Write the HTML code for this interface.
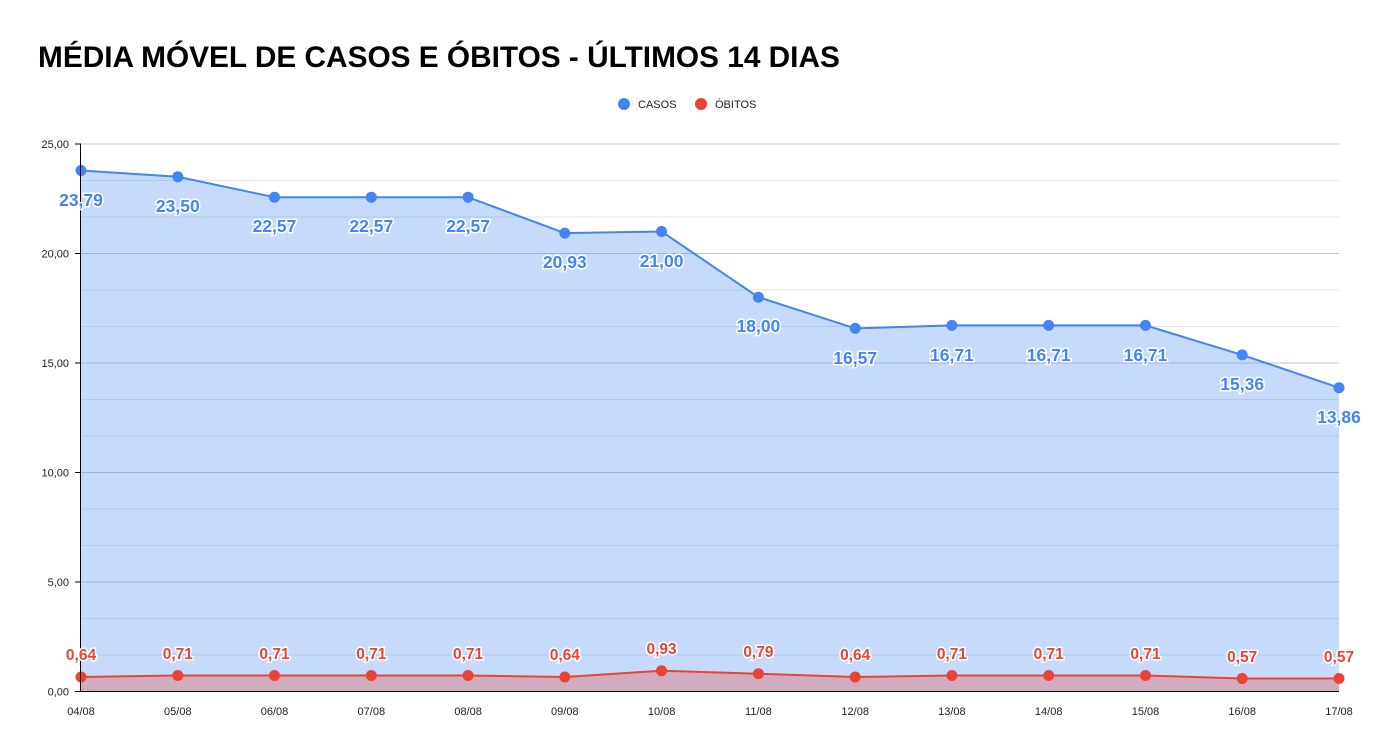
<!DOCTYPE html>
<html><head><meta charset="utf-8"><style>
body{margin:0;background:#fff;}
svg{display:block;font-family:"Liberation Sans",Arial,sans-serif;}
.yl{font-size:11px;fill:#222;text-anchor:end}
.xl{font-size:11px;fill:#222;text-anchor:middle}
.cl{font-size:17.5px;font-weight:bold;fill:#4285f4;text-anchor:middle;stroke:#fff;stroke-width:3;paint-order:stroke}
.dl{font-size:15.5px;font-weight:bold;fill:#ea4335;text-anchor:middle;stroke:#fff;stroke-width:3;paint-order:stroke}
</style></head><body>
<svg width="1377" height="756" viewBox="0 0 1377 756">
<text x="38" y="67" font-size="29.8" font-weight="bold" fill="#000">MÉDIA MÓVEL DE CASOS E ÓBITOS - ÚLTIMOS 14 DIAS</text>
<circle cx="624" cy="104" r="6" fill="#4285f4"/><text x="638" y="108" font-size="11" fill="#222">CASOS</text>
<circle cx="701" cy="104" r="6" fill="#ea4335"/><text x="715" y="108" font-size="11" fill="#222">ÓBITOS</text>
<g stroke="#e4e4e4" stroke-width="1">
<line x1="81" x2="1339" y1="180.5" y2="180.5"/><line x1="81" x2="1339" y1="217" y2="217"/>
<line x1="81" x2="1339" y1="290" y2="290"/><line x1="81" x2="1339" y1="326.5" y2="326.5"/>
<line x1="81" x2="1339" y1="399.5" y2="399.5"/><line x1="81" x2="1339" y1="436" y2="436"/>
<line x1="81" x2="1339" y1="509" y2="509"/><line x1="81" x2="1339" y1="545.5" y2="545.5"/>
<line x1="81" x2="1339" y1="618.5" y2="618.5"/><line x1="81" x2="1339" y1="655" y2="655"/>
</g>
<g stroke="#c4c4c4" stroke-width="1">
<line x1="81" x2="1339" y1="144" y2="144"/><line x1="81" x2="1339" y1="253.5" y2="253.5"/>
<line x1="81" x2="1339" y1="363" y2="363"/><line x1="81" x2="1339" y1="472.5" y2="472.5"/>
<line x1="81" x2="1339" y1="582" y2="582"/>
</g>
<polygon fill="#4285f4" fill-opacity="0.3" points="81,691 81,170.5 177.8,176.8 274.5,197.2 371.3,197.2 468.1,197.2 564.8,233.1 661.6,231.5 758.4,297.2 855.2,328.4 951.9,325.4 1048.7,325.4 1145.5,325.4 1242.2,354.9 1339,387.7 1339,691"/>
<polygon fill="#ea4335" fill-opacity="0.3" points="81,691 81,677 177.8,675.5 274.5,675.5 371.3,675.5 468.1,675.5 564.8,677 661.6,670.7 758.4,673.7 855.2,677 951.9,675.5 1048.7,675.5 1145.5,675.5 1242.2,678.5 1339,678.5 1339,691"/>
<polyline fill="none" stroke="#4285f4" stroke-width="2" points="81,170.5 177.8,176.8 274.5,197.2 371.3,197.2 468.1,197.2 564.8,233.1 661.6,231.5 758.4,297.2 855.2,328.4 951.9,325.4 1048.7,325.4 1145.5,325.4 1242.2,354.9 1339,387.7"/>
<polyline fill="none" stroke="#ea4335" stroke-width="2" points="81,677 177.8,675.5 274.5,675.5 371.3,675.5 468.1,675.5 564.8,677 661.6,670.7 758.4,673.7 855.2,677 951.9,675.5 1048.7,675.5 1145.5,675.5 1242.2,678.5 1339,678.5"/>
<g fill="#4285f4">
<circle cx="81" cy="170.5" r="5.5"/><circle cx="177.8" cy="176.8" r="5.5"/><circle cx="274.5" cy="197.2" r="5.5"/><circle cx="371.3" cy="197.2" r="5.5"/><circle cx="468.1" cy="197.2" r="5.5"/><circle cx="564.8" cy="233.1" r="5.5"/><circle cx="661.6" cy="231.5" r="5.5"/><circle cx="758.4" cy="297.2" r="5.5"/><circle cx="855.2" cy="328.4" r="5.5"/><circle cx="951.9" cy="325.4" r="5.5"/><circle cx="1048.7" cy="325.4" r="5.5"/><circle cx="1145.5" cy="325.4" r="5.5"/><circle cx="1242.2" cy="354.9" r="5.5"/><circle cx="1339" cy="387.7" r="5.5"/>
</g>
<g fill="#ea4335">
<circle cx="81" cy="677" r="5.5"/><circle cx="177.8" cy="675.5" r="5.5"/><circle cx="274.5" cy="675.5" r="5.5"/><circle cx="371.3" cy="675.5" r="5.5"/><circle cx="468.1" cy="675.5" r="5.5"/><circle cx="564.8" cy="677" r="5.5"/><circle cx="661.6" cy="670.7" r="5.5"/><circle cx="758.4" cy="673.7" r="5.5"/><circle cx="855.2" cy="677" r="5.5"/><circle cx="951.9" cy="675.5" r="5.5"/><circle cx="1048.7" cy="675.5" r="5.5"/><circle cx="1145.5" cy="675.5" r="5.5"/><circle cx="1242.2" cy="678.5" r="5.5"/><circle cx="1339" cy="678.5" r="5.5"/>
</g>
<line x1="80.5" x2="80.5" y1="144" y2="691" stroke="#000"/>
<line x1="80" x2="1339" y1="691.5" y2="691.5" stroke="#000"/>
<g stroke="#000"><line x1="75" x2="81" y1="144" y2="144"/><line x1="75" x2="81" y1="253.5" y2="253.5"/><line x1="75" x2="81" y1="363" y2="363"/><line x1="75" x2="81" y1="472.5" y2="472.5"/><line x1="75" x2="81" y1="582" y2="582"/><line x1="75" x2="81" y1="691.5" y2="691.5"/></g>
<text class="yl" x="69" y="148">25,00</text><text class="yl" x="69" y="257.5">20,00</text><text class="yl" x="69" y="367">15,00</text><text class="yl" x="69" y="476.5">10,00</text><text class="yl" x="69" y="586">5,00</text><text class="yl" x="69" y="695.5">0,00</text>
<text class="xl" x="81" y="715">04/08</text><text class="xl" x="177.8" y="715">05/08</text><text class="xl" x="274.5" y="715">06/08</text><text class="xl" x="371.3" y="715">07/08</text><text class="xl" x="468.1" y="715">08/08</text><text class="xl" x="564.8" y="715">09/08</text><text class="xl" x="661.6" y="715">10/08</text><text class="xl" x="758.4" y="715">11/08</text><text class="xl" x="855.2" y="715">12/08</text><text class="xl" x="951.9" y="715">13/08</text><text class="xl" x="1048.7" y="715">14/08</text><text class="xl" x="1145.5" y="715">15/08</text><text class="xl" x="1242.2" y="715">16/08</text><text class="xl" x="1339" y="715">17/08</text>
<text class="cl" x="81" y="206">23,79</text><text class="cl" x="177.8" y="212">23,50</text><text class="cl" x="274.5" y="232">22,57</text><text class="cl" x="371.3" y="232">22,57</text><text class="cl" x="468.1" y="232">22,57</text><text class="cl" x="564.8" y="268">20,93</text><text class="cl" x="661.6" y="267">21,00</text><text class="cl" x="758.4" y="332">18,00</text><text class="cl" x="855.2" y="364">16,57</text><text class="cl" x="951.9" y="361">16,71</text><text class="cl" x="1048.7" y="361">16,71</text><text class="cl" x="1145.5" y="361">16,71</text><text class="cl" x="1242.2" y="390">15,36</text><text class="cl" x="1339" y="423">13,86</text>
<text class="dl" x="81" y="660">0,64</text><text class="dl" x="177.8" y="659">0,71</text><text class="dl" x="274.5" y="659">0,71</text><text class="dl" x="371.3" y="659">0,71</text><text class="dl" x="468.1" y="659">0,71</text><text class="dl" x="564.8" y="660">0,64</text><text class="dl" x="661.6" y="654">0,93</text><text class="dl" x="758.4" y="657">0,79</text><text class="dl" x="855.2" y="660">0,64</text><text class="dl" x="951.9" y="659">0,71</text><text class="dl" x="1048.7" y="659">0,71</text><text class="dl" x="1145.5" y="659">0,71</text><text class="dl" x="1242.2" y="662">0,57</text><text class="dl" x="1339" y="662">0,57</text>
</svg>
</body></html>
